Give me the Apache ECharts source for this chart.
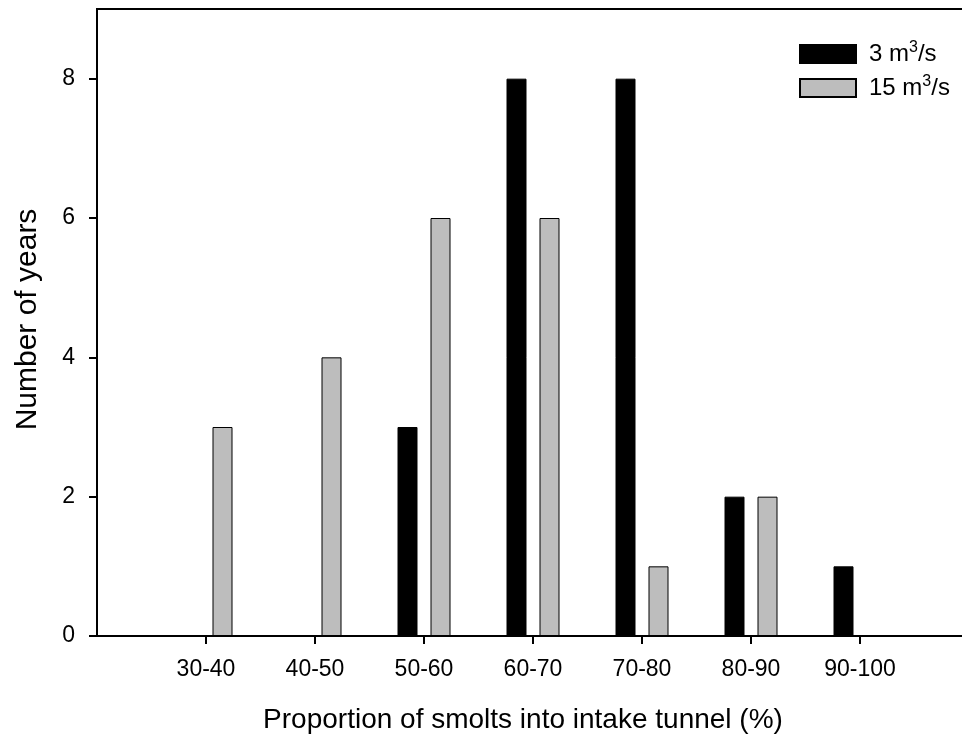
<!DOCTYPE html>
<html>
<head>
<meta charset="utf-8">
<script src="https://cdn.jsdelivr.net/npm/echarts@6/dist/echarts.min.js"></script>
<style>
html,body{margin:0;padding:0;background:#fff;overflow:hidden;}
#chart{width:962px;height:742px;}
</style>
</head>
<body>
<div id="chart"></div>
<script>
// Data
var categories = ['30-40', '40-50', '50-60', '60-70', '70-80', '80-90', '90-100'];
var flow3 = [0, 0, 3, 8, 8, 2, 1];      // 3 m3/s
var flow15 = [3, 4, 6, 6, 1, 2, 0];     // 15 m3/s
var yTicks = [0, 2, 4, 6, 8];
var seriesNames = ['3 m3/s', '15 m3/s'];

// padded axis (empty slot at both ends)
var axisCats = [''].concat(categories, ['']);
function pad(arr) { return [null].concat(arr, [null]); }

var FONT = 'Liberation Sans, Arial, Helvetica, sans-serif';
var chart = echarts.init(document.getElementById('chart'), null, {renderer: 'canvas'});

var option = {
  animation: false,
  backgroundColor: '#ffffff',
  textStyle: {fontFamily: FONT, color: '#000'},
  grid: {
    left: 97, top: 9, right: -7, bottom: 106,
    outerBoundsMode: 'none',
    containLabel: false,
    show: true, borderColor: '#000', borderWidth: 2, backgroundColor: 'transparent'
  },
  legend: {
    orient: 'vertical',
    left: 799, top: 40,
    padding: 0,
    itemWidth: 56, itemHeight: 18, itemGap: 8,
    icon: 'rect',
    data: seriesNames,
    textStyle: {
      fontFamily: FONT, fontSize: 24, color: '#000', padding: [0, 0, 0, 8],
      rich: {
        t: {fontFamily: FONT, fontSize: 24, lineHeight: 24, color: '#000'},
        sup: {fontFamily: FONT, fontSize: 16, lineHeight: 24, color: '#000', verticalAlign: 'bottom', padding: [0, 0, 10, 0]}
      }
    },
    formatter: function (name) {
      var parts = name.split('m3/s');
      return '{t|' + parts[0] + 'm}{sup|3}{t|/s}';
    }
  },
  xAxis: {
    type: 'category',
    data: axisCats,
    boundaryGap: false,
    name: 'Proportion of smolts into intake tunnel (%)',
    nameLocation: 'middle',
    nameGap: 70,
    nameTextStyle: {fontFamily: FONT, fontSize: 28, color: '#000', padding: [0, 20, 0, 0]},
    axisLine: {show: true, lineStyle: {color: '#000', width: 2}},
    axisTick: {
      show: true, length: 8, lineStyle: {color: '#000', width: 2},
      interval: function (idx, val) { return val !== ''; }
    },
    axisLabel: {
      interval: 0, margin: 22,
      fontFamily: FONT, fontSize: 23, color: '#000'
    },
    splitLine: {show: false}
  },
  yAxis: {
    type: 'value',
    min: 0, max: 9, interval: 2,
    name: 'Number of years',
    nameLocation: 'middle',
    nameGap: 54,
    nameRotate: 90,
    nameTextStyle: {fontFamily: FONT, fontSize: 30, color: '#000', padding: [0, 0, 0, 6]},
    axisLine: {show: true, lineStyle: {color: '#000', width: 2}},
    axisTick: {show: true, length: 8, lineStyle: {color: '#000', width: 2}, customValues: yTicks},
    axisLabel: {margin: 22, fontFamily: FONT, fontSize: 23, color: '#000', customValues: yTicks},
    splitLine: {show: false}
  },
  series: [
    {
      name: seriesNames[0],
      type: 'bar',
      data: pad(flow3),
      barWidth: 20,
      barGap: '65%',
      itemStyle: {color: '#000000', borderColor: '#000000', borderWidth: 1}
    },
    {
      name: seriesNames[1],
      type: 'bar',
      data: pad(flow15),
      barWidth: 20,
      barGap: '65%',
      itemStyle: {color: '#bdbdbd', borderColor: '#000000', borderWidth: 1}
    }
  ]
};
chart.setOption(option);
</script>
</body>
</html>
